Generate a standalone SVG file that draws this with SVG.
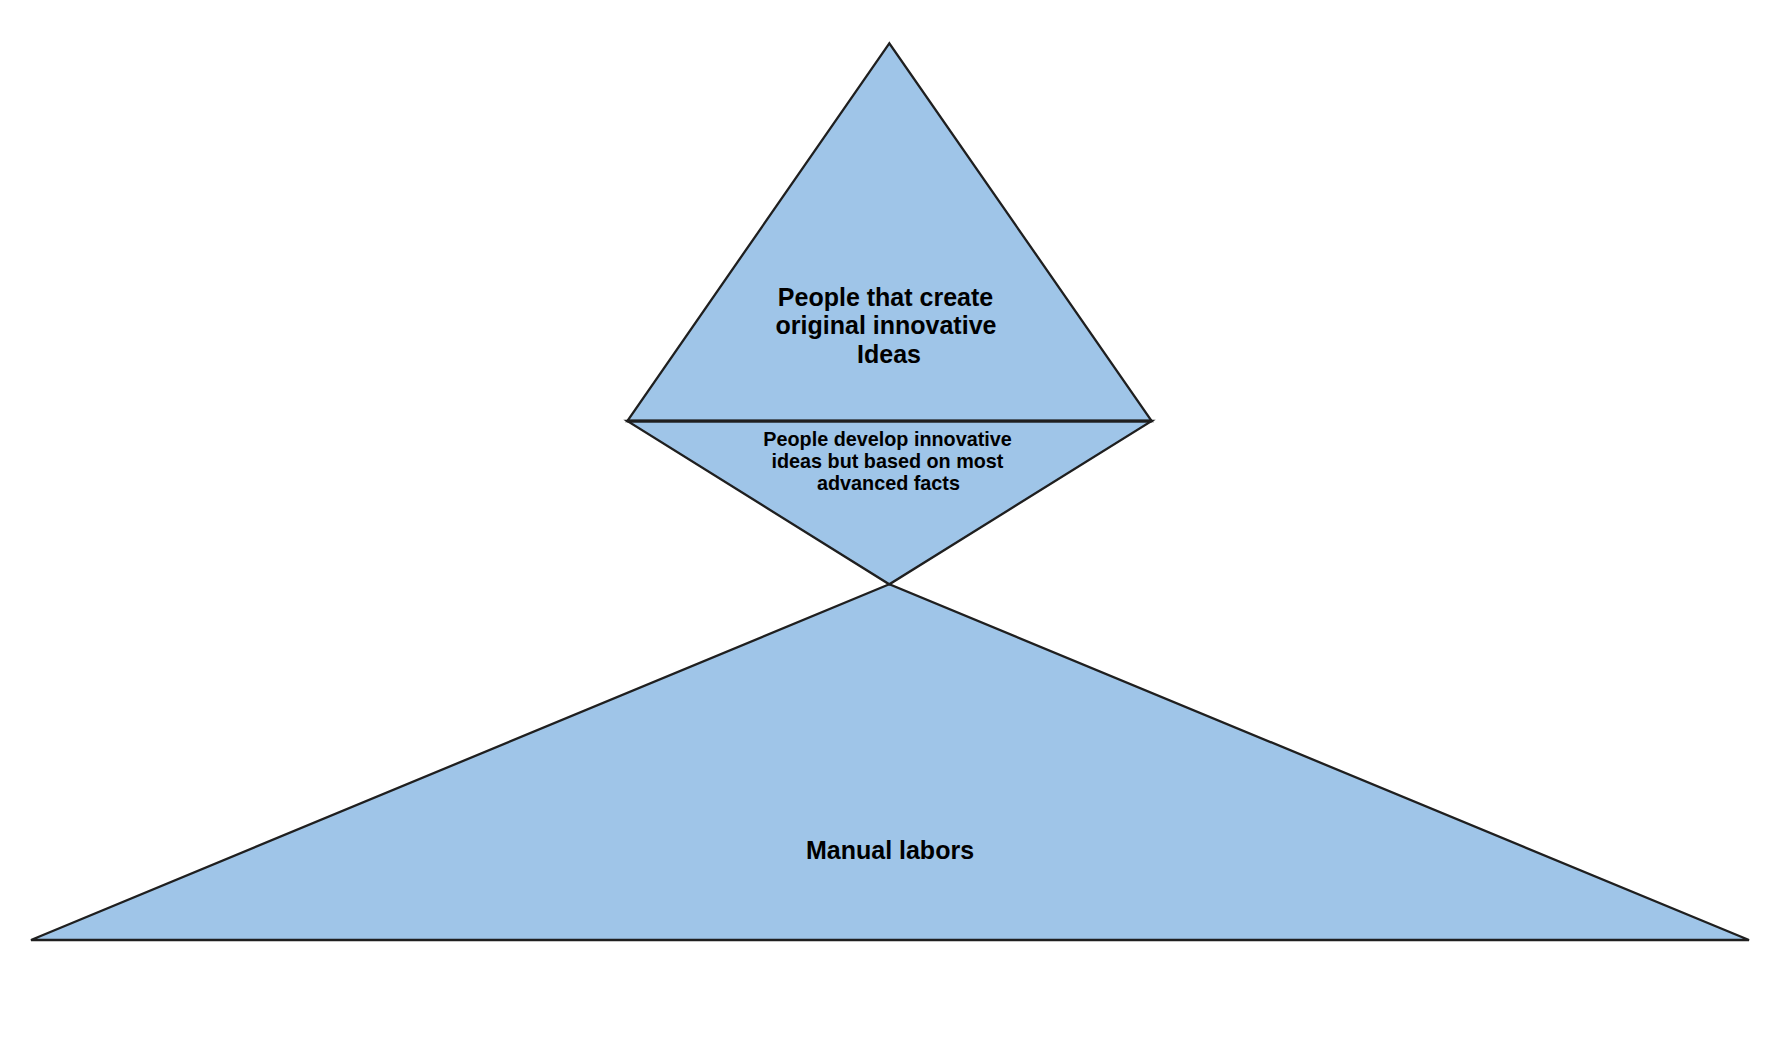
<svg xmlns="http://www.w3.org/2000/svg" width="1780" height="1048" viewBox="0 0 1780 1048">
<style>
.shape{fill:#9fc5e8;stroke:#1f1f1f;stroke-width:2.3;stroke-linejoin:miter}
.t{font-family:"Liberation Sans",Arial,sans-serif;font-weight:bold;fill:#000;text-anchor:middle}
.big{font-size:25px}
.mid{font-size:19.8px}
</style>
<rect width="1780" height="1048" fill="#fff"/>
<g id="bottom">
<polygon class="shape" points="889.3,584.3 31,940 1749,940"/>
<text class="t big" x="890" y="859">Manual labors</text>
</g>
<g id="middle">
<polygon class="shape" points="627.3,421 1151.7,421 889.3,584.3"/>
<text class="t mid"><tspan x="887.5" y="446">People develop innovative</tspan><tspan x="887.5" y="468">ideas but based on most</tspan><tspan x="888.5" y="490">advanced facts</tspan></text>
</g>
<g id="top">
<polygon class="shape" points="889.3,43.3 627.3,421 1151.7,421"/>
<line x1="627.3" y1="421" x2="1151.7" y2="421" stroke="#1f1f1f" stroke-width="3.2"/>
<text class="t big"><tspan x="885.5" y="305.7">People that create</tspan><tspan x="886" y="334.3">original innovative</tspan><tspan x="889" y="363">Ideas</tspan></text>
</g>
<g id="connectors"></g>
</svg>
